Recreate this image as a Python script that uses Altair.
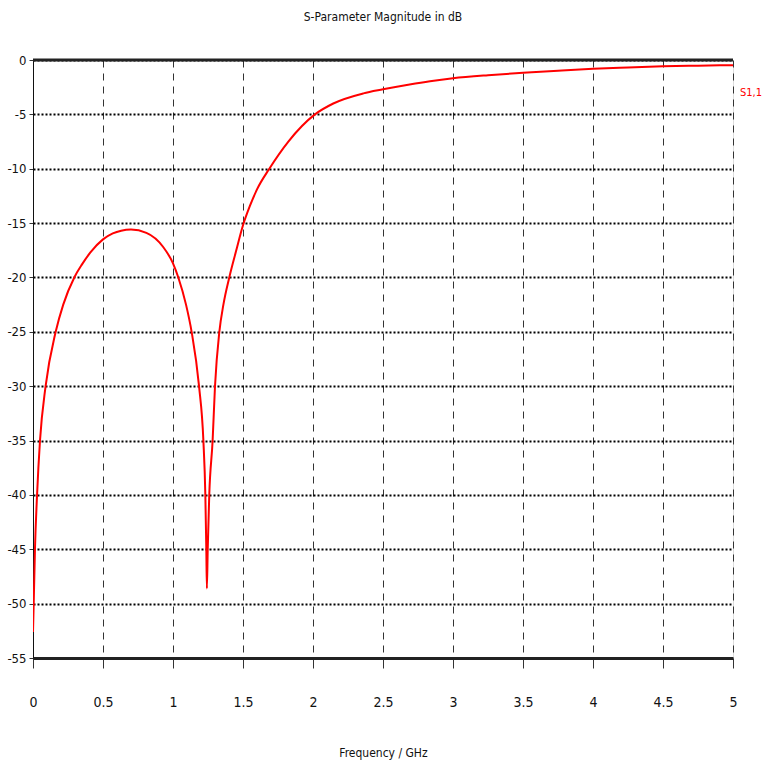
import altair as alt
import pandas as pd

# S1,1 magnitude (dB)
freq = [0.0, 0.005, 0.014, 0.029, 0.05, 0.09, 0.162, 0.216, 0.295, 0.35, 0.41, 0.5,
        0.57, 0.63, 0.70, 0.81, 0.93, 1.0, 1.038, 1.093, 1.133, 1.186, 1.217, 1.231,
        1.238, 1.242, 1.248, 1.259, 1.283, 1.30, 1.331, 1.36, 1.402, 1.45, 1.50,
        1.55, 1.60, 1.688, 1.824, 2.014, 2.145, 2.36, 2.5, 2.69, 2.836, 3.0, 3.25,
        3.5, 3.75, 4.0, 4.25, 4.5, 4.75, 5.0]
s11_db = [-52.6, -50.0, -45.0, -40.0, -35.0, -30.0, -25.0, -22.5, -20.0, -18.8, -17.7, -16.5,
          -15.95, -15.7, -15.6, -15.9, -17.2, -18.7, -20.0, -22.5, -25.0, -30.0, -35.0, -40.0,
          -45.0, -48.6, -45.0, -40.0, -35.0, -30.0, -25.0, -22.5, -20.0, -17.6, -15.2,
          -13.4, -11.9, -10.0, -7.5, -5.0, -4.0, -3.07, -2.7, -2.25, -1.95, -1.68, -1.4,
          -1.18, -0.98, -0.8, -0.68, -0.58, -0.52, -0.48]

x_ticks = [0, 0.5, 1, 1.5, 2, 2.5, 3, 3.5, 4, 4.5, 5]
y_ticks = [-55, -50, -45, -40, -35, -30, -25, -20, -15, -10, -5, 0]

series_label = ["S1,1"]
series_label_f = [5.0]
series_label_db = [-3.0]

top_line_db = [0]

FONT = "Liberation Sans Narrow, DejaVu Sans Condensed, Liberation Sans, sans-serif"

df = pd.DataFrame({"f": freq, "db": s11_db})
lab = pd.DataFrame({"f": series_label_f, "db": series_label_db, "t": series_label})
top = pd.DataFrame({"db": top_line_db})

xscale = alt.Scale(domain=[0, 5], nice=False, zero=False)
yscale = alt.Scale(domain=[-55, 0], nice=False, zero=False)

x_axis = alt.Axis(values=x_ticks, labelExpr="'' + datum.value", title="Frequency / GHz",
                  grid=True, gridDash=[7, 6], gridColor="#333333", gridWidth=1,
                  domainColor="#222222", domainWidth=3,
                  tickSize=10, tickColor="#333333", tickWidth=1,
                  labelFont=FONT, labelFontSize=14, labelColor="#111111",
                  labelPadding=27, labelFlush=False, labelOverlap=False,
                  titleFont=FONT, titleFontSize=12, titleFontWeight="normal",
                  titleColor="#111111", titleY=94, titleBaseline="middle")

y_axis = alt.Axis(values=y_ticks, labelExpr="'' + datum.value", title=None,
                  grid=True, gridDash=[2, 2], gridColor="#000000", gridWidth=2,
                  domainColor="#111111", domainWidth=1,
                  tickSize=4, tickColor="#333333", tickWidth=1,
                  labelFont=FONT, labelFontSize=13, labelColor="#111111",
                  labelPadding=3, labelFlush=False, labelOverlap=False)

line = alt.Chart(df).mark_line(color="#ff0000", strokeWidth=2,
                               interpolate="monotone", clip=True).encode(
    x=alt.X("f:Q", scale=xscale, axis=x_axis),
    y=alt.Y("db:Q", scale=yscale, axis=y_axis),
)

top_rule = alt.Chart(top).mark_rule(color="#222222", strokeWidth=3).encode(
    y=alt.Y("db:Q", scale=yscale)
)

label = alt.Chart(lab).mark_text(align="left", baseline="middle", dx=7,
                                 color="#ff0000", font=FONT, fontSize=11).encode(
    x=alt.X("f:Q", scale=xscale),
    y=alt.Y("db:Q", scale=yscale),
    text="t:N",
)

chart = alt.layer(line, top_rule, label).properties(
    width=700,
    height=598,
    autosize=alt.AutoSizeParams(type="none"),
    padding={"left": 33, "top": 60, "right": 31, "bottom": 114},
    title=alt.TitleParams("S-Parameter Magnitude in dB", font=FONT, fontSize=12,
                          fontWeight="normal", color="#111111", anchor="middle",
                          offset=30),
).configure_view(stroke="#111111", strokeWidth=1).configure(background="white")

chart.save("out.html", embed_options={"renderer": "svg", "actions": False})
